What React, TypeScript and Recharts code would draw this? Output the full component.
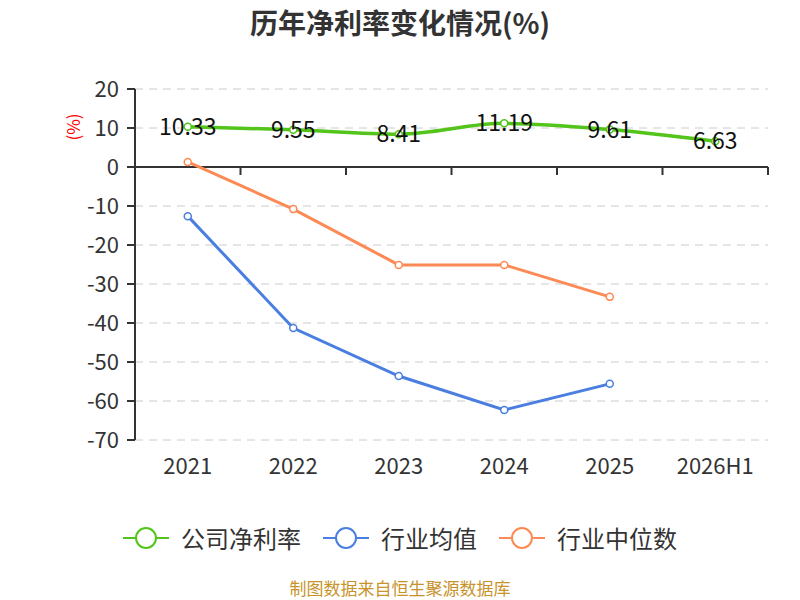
import React from 'react';
import { LineChart, Line, XAxis, YAxis, CartesianGrid, ReferenceLine, Legend, LabelList } from 'recharts';

const categories = ['2021', '2022', '2023', '2024', '2025', '2026H1'];
const companyMargin = [10.33, 9.55, 8.41, 11.19, 9.61, 6.63];
const industryAvg: (number | null)[] = [-12.6, -41.3, -53.6, -62.3, -55.6, null];
const industryMedian: (number | null)[] = [1.3, -10.8, -25.1, -25.1, -33.3, null];
const yTicks = [20, 10, 0, -10, -20, -30, -40, -50, -60, -70];

const seriesNames = ['公司净利率', '行业均值', '行业中位数'];
const colors = ['#52c41a', '#4a7ee0', '#fd8a55'];

const data = categories.map((c, i) => ({
  name: c,
  company: companyMargin[i],
  avg: industryAvg[i],
  median: industryMedian[i],
}));

const FONT = '"Noto Sans CJK SC", "Noto Sans", sans-serif';
const PLOT_W = 800 - 135 - 32;
const HALF_BAND = PLOT_W / categories.length / 2;

const ZeroLine = (props: any) => {
  const { x1, x2, y1 } = props;
  const n = categories.length;
  const step = (x2 - x1) / n;
  const ticks = [];
  for (let i = 0; i <= n; i++) {
    const x = x1 + step * i;
    ticks.push(<line key={i} x1={x} x2={x} y1={y1} y2={y1 + 8} stroke="#333" strokeWidth={2} />);
  }
  return (
    <g>
      <line x1={x1} x2={x2} y1={y1} y2={y1} stroke="#333" strokeWidth={2} />
      {ticks}
    </g>
  );
};

const CompanyLabel = (props: any) => {
  const { x, y, value } = props;
  return (
    <text x={x} y={y - 2} textAnchor="middle" dominantBaseline="central" fontSize={23} fill="#111" fontFamily={FONT}>
      {value}
    </text>
  );
};

const LegendContent = () => (
  <div style={{ display: 'flex', justifyContent: 'center', alignItems: 'center', fontFamily: FONT, fontSize: 24, color: '#333' }}>
    {seriesNames.map((n, i) => (
      <div key={n} style={{ display: 'flex', alignItems: 'center', marginRight: i < 2 ? 22 : 0 }}>
        <svg width={46} height={26} style={{ marginRight: 12 }}>
          <line x1={0} x2={46} y1={13} y2={13} stroke={colors[i]} strokeWidth={2} />
          <circle cx={23} cy={13} r={10} fill="#fff" stroke={colors[i]} strokeWidth={2} />
        </svg>
        <span>{n}</span>
      </div>
    ))}
  </div>
);

const YLabel = (props: any) => {
  const { viewBox } = props;
  const x = 72;
  const y = viewBox.y + 38;
  return (
    <text x={x} y={y} transform={`rotate(-90 ${x} ${y})`} textAnchor="middle" dominantBaseline="central" fill="#f00" fontSize={17} fontFamily={FONT}>
      (%)
    </text>
  );
};

export default function App() {
  return (
    <div style={{ position: 'absolute', left: 0, top: 0, width: 800, height: 600, background: '#fff', fontFamily: FONT }}>
      <div style={{ position: 'absolute', top: 2, left: 0, width: 800, textAlign: 'center', fontSize: 28, lineHeight: '40px', fontWeight: 'bold', color: '#333' }}>
        历年净利率变化情况(%)
      </div>
      <LineChart width={800} height={600} data={data} margin={{ top: 89, right: 32, left: 75, bottom: 120 }}>
        <CartesianGrid horizontal vertical={false} stroke="#ccc" strokeDasharray="8 6" />
        <XAxis
          dataKey="name"
          axisLine={false}
          tickLine={false}
          height={40}
          padding={{ left: HALF_BAND, right: HALF_BAND }}
          tick={{ fontSize: 22, fill: '#333', fontFamily: FONT }}
          tickMargin={12}
          interval={0}
        />
        <YAxis
          domain={[-70, 20]}
          ticks={yTicks}
          width={60}
          interval={0}
          axisLine={{ stroke: '#333', strokeWidth: 2 }}
          tickLine={{ stroke: '#333', strokeWidth: 2 }}
          tickSize={8}
          tickMargin={8}
          tick={{ fontSize: 22, fill: '#333', fontFamily: FONT }}
          label={<YLabel />}
        />
        <ReferenceLine y={0} shape={<ZeroLine />} />
        <Line
          type="linear"
          dataKey="avg"
          stroke={colors[1]}
          strokeWidth={3}
          dot={{ r: 3.5, fill: '#fff', stroke: colors[1], strokeWidth: 1.5 }}
          isAnimationActive={false}
        />
        <Line
          type="linear"
          dataKey="median"
          stroke={colors[2]}
          strokeWidth={3}
          dot={{ r: 3.5, fill: '#fff', stroke: colors[2], strokeWidth: 1.5 }}
          isAnimationActive={false}
        />
        <Line
          type="monotone"
          dataKey="company"
          stroke={colors[0]}
          strokeWidth={3.5}
          dot={{ r: 3.5, fill: '#fff', stroke: colors[0], strokeWidth: 1.5 }}
          isAnimationActive={false}
        >
          <LabelList dataKey="company" content={<CompanyLabel />} />
        </Line>
        <Legend
          layout="horizontal"
          verticalAlign="middle"
          align="center"
          content={<LegendContent />}
          wrapperStyle={{ position: 'absolute', top: 520, left: 0, width: 800 }}
        />
      </LineChart>
      <div style={{ position: 'absolute', top: 577, left: 0, width: 800, textAlign: 'center', fontSize: 17, lineHeight: '22px', color: '#c8932b' }}>
        制图数据来自恒生聚源数据库
      </div>
    </div>
  );
}
